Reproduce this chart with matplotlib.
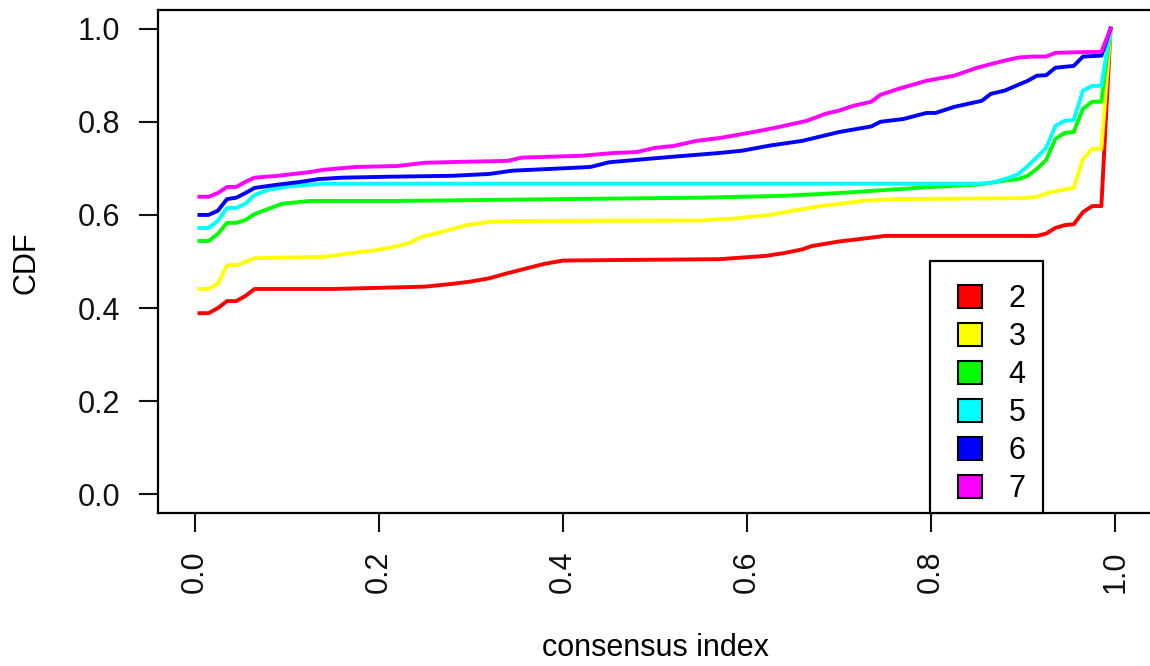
import matplotlib
matplotlib.use("Agg")
import matplotlib.pyplot as plt
from matplotlib.patches import Patch, Rectangle

plt.rcParams['font.family'] = ['Liberation Sans', 'DejaVu Sans']

# consensus CDF curves (x = consensus index, y = CDF)
k_labels = ['2', '3', '4', '5', '6', '7']
colors = ['#FF0000', '#FFFF00', '#00FF00', '#00FFFF', '#0000FF', '#FF00FF']

x_k2 = [0.005, 0.015, 0.025, 0.035, 0.045, 0.055, 0.065, 0.15, 0.25, 0.28, 0.30, 0.32, 0.34,
        0.36, 0.38, 0.40, 0.45, 0.57, 0.62, 0.64, 0.66, 0.67, 0.70, 0.73, 0.75, 0.915, 0.925,
        0.935, 0.945, 0.955, 0.965, 0.975, 0.985, 0.995]
y_k2 = [0.389, 0.389, 0.400, 0.415, 0.415, 0.426, 0.441, 0.441, 0.446, 0.452, 0.457, 0.464, 0.475,
        0.485, 0.495, 0.502, 0.503, 0.505, 0.512, 0.518, 0.526, 0.533, 0.543, 0.550, 0.555, 0.555, 0.560,
        0.572, 0.578, 0.580, 0.606, 0.619, 0.619, 1.0]

x_k3 = [0.005, 0.015, 0.025, 0.035, 0.045, 0.055, 0.065, 0.14, 0.17, 0.20, 0.22, 0.235, 0.245,
        0.275, 0.295, 0.32, 0.35, 0.55, 0.59, 0.625, 0.65, 0.68, 0.73, 0.76, 0.90, 0.915, 0.93,
        0.955, 0.965, 0.975, 0.985, 0.995]
y_k3 = [0.441, 0.441, 0.452, 0.492, 0.492, 0.499, 0.507, 0.510, 0.518, 0.525, 0.533, 0.541, 0.552,
        0.567, 0.578, 0.585, 0.587, 0.588, 0.593, 0.600, 0.609, 0.619, 0.631, 0.634, 0.636, 0.639, 0.649,
        0.658, 0.720, 0.742, 0.742, 1.0]

x_k4 = [0.005, 0.015, 0.025, 0.035, 0.045, 0.055, 0.065, 0.08, 0.095, 0.125, 0.22, 0.40, 0.55,
        0.64, 0.70, 0.80, 0.85, 0.865, 0.885, 0.895, 0.905, 0.915, 0.925, 0.935, 0.945, 0.955,
        0.965, 0.975, 0.985, 0.995]
y_k4 = [0.544, 0.544, 0.559, 0.583, 0.583, 0.589, 0.602, 0.613, 0.624, 0.630, 0.630, 0.634, 0.637,
        0.641, 0.647, 0.660, 0.665, 0.669, 0.675, 0.677, 0.684, 0.699, 0.718, 0.763, 0.776, 0.778,
        0.828, 0.843, 0.843, 1.0]

x_k5 = [0.005, 0.015, 0.025, 0.035, 0.045, 0.055, 0.065, 0.08, 0.105, 0.14, 0.85, 0.865, 0.875,
        0.885, 0.895, 0.905, 0.915, 0.925, 0.935, 0.945, 0.955, 0.965, 0.975, 0.985, 0.995]
y_k5 = [0.572, 0.572, 0.587, 0.615, 0.615, 0.624, 0.643, 0.654, 0.662, 0.667, 0.667, 0.669, 0.674,
        0.680, 0.688, 0.705, 0.724, 0.744, 0.791, 0.802, 0.804, 0.867, 0.877, 0.877, 1.0]

x_k6 = [0.005, 0.015, 0.025, 0.035, 0.045, 0.055, 0.065, 0.09, 0.115, 0.135, 0.16, 0.21, 0.28,
        0.32, 0.345, 0.41, 0.43, 0.45, 0.49, 0.52, 0.57, 0.595, 0.625, 0.66, 0.70, 0.735, 0.745,
        0.77, 0.795, 0.805, 0.825, 0.855, 0.865, 0.88, 0.905, 0.915, 0.925, 0.935, 0.955, 0.965,
        0.985, 0.995]
y_k6 = [0.600, 0.600, 0.609, 0.634, 0.637, 0.647, 0.658, 0.665, 0.671, 0.677, 0.680, 0.682, 0.684,
        0.688, 0.695, 0.701, 0.703, 0.713, 0.720, 0.725, 0.733, 0.738, 0.749, 0.759, 0.778, 0.790, 0.800,
        0.806, 0.819, 0.819, 0.832, 0.845, 0.860, 0.867, 0.888, 0.899, 0.900, 0.916, 0.920, 0.940,
        0.942, 1.0]

x_k7 = [0.005, 0.015, 0.025, 0.035, 0.045, 0.055, 0.065, 0.09, 0.125, 0.14, 0.175, 0.22, 0.25,
        0.29, 0.34, 0.355, 0.42, 0.455, 0.48, 0.50, 0.52, 0.545, 0.57, 0.59, 0.615, 0.635, 0.665,
        0.685, 0.70, 0.715, 0.735, 0.745, 0.765, 0.795, 0.825, 0.85, 0.875, 0.895, 0.91, 0.925,
        0.935, 0.975, 0.985, 0.995]
y_k7 = [0.639, 0.639, 0.647, 0.660, 0.660, 0.671, 0.680, 0.684, 0.692, 0.697, 0.703, 0.705, 0.712,
        0.714, 0.716, 0.723, 0.727, 0.733, 0.735, 0.744, 0.748, 0.759, 0.765, 0.772, 0.781, 0.789, 0.802,
        0.817, 0.824, 0.834, 0.843, 0.858, 0.871, 0.888, 0.899, 0.916, 0.929, 0.938, 0.940, 0.940,
        0.948, 0.950, 0.950, 1.0]

xs = [x_k2, x_k3, x_k4, x_k5, x_k6, x_k7]
ys = [y_k2, y_k3, y_k4, y_k5, y_k6, y_k7]
ticks = [0.0, 0.2, 0.4, 0.6, 0.8, 1.0]
tick_labels = ['0.0', '0.2', '0.4', '0.6', '0.8', '1.0']

fig = plt.figure(figsize=(11.5, 6.66), dpi=100)
ax = fig.add_axes([158 / 1150, 1 - 513 / 666, (1152 - 158) / 1150, (513 - 10) / 666])

for x, y, c in zip(xs, ys, colors):
    ax.plot(x, y, color=c, lw=2.8, solid_joinstyle='round')

ax.set_xlim(-0.04, 1.04)
ax.set_ylim(-0.04, 1.04)
ax.set_xticks(ticks)
ax.set_xticklabels(tick_labels, rotation=90)
ax.set_yticks(ticks)
ax.set_yticklabels(tick_labels)
ax.tick_params(axis='both', labelsize=22, length=14, width=1.5, pad=13, colors='#111111')
for s in ax.spines.values():
    s.set_linewidth(1.6)

fig.text(655 / 1150, 1 - 648 / 666, 'consensus index', ha='center', va='center', fontsize=22)
fig.text(27 / 1150, 1 - 263 / 666, 'CDF', rotation=90, ha='center', va='center', fontsize=22)

# R-style legend box: top-left corner at (0.8, 0.5), running down to the bottom of the plot
ax.add_patch(Rectangle((0.799, -0.039), 0.123, 0.54, facecolor='white', edgecolor='black',
                       lw=1.6, zorder=4, clip_on=False))
handles = [Patch(facecolor=c, edgecolor='black', linewidth=1.5) for c in colors]
leg = ax.legend(handles, k_labels, loc='upper left', bbox_to_anchor=(0.829, 0.4515),
                bbox_transform=ax.transData, borderaxespad=0, borderpad=0, fontsize=22,
                frameon=False, handlelength=0.78, handleheight=0.78, handletextpad=0.88,
                labelspacing=0.26)
leg.set_zorder(5)

fig.savefig('out.png', dpi=100)
